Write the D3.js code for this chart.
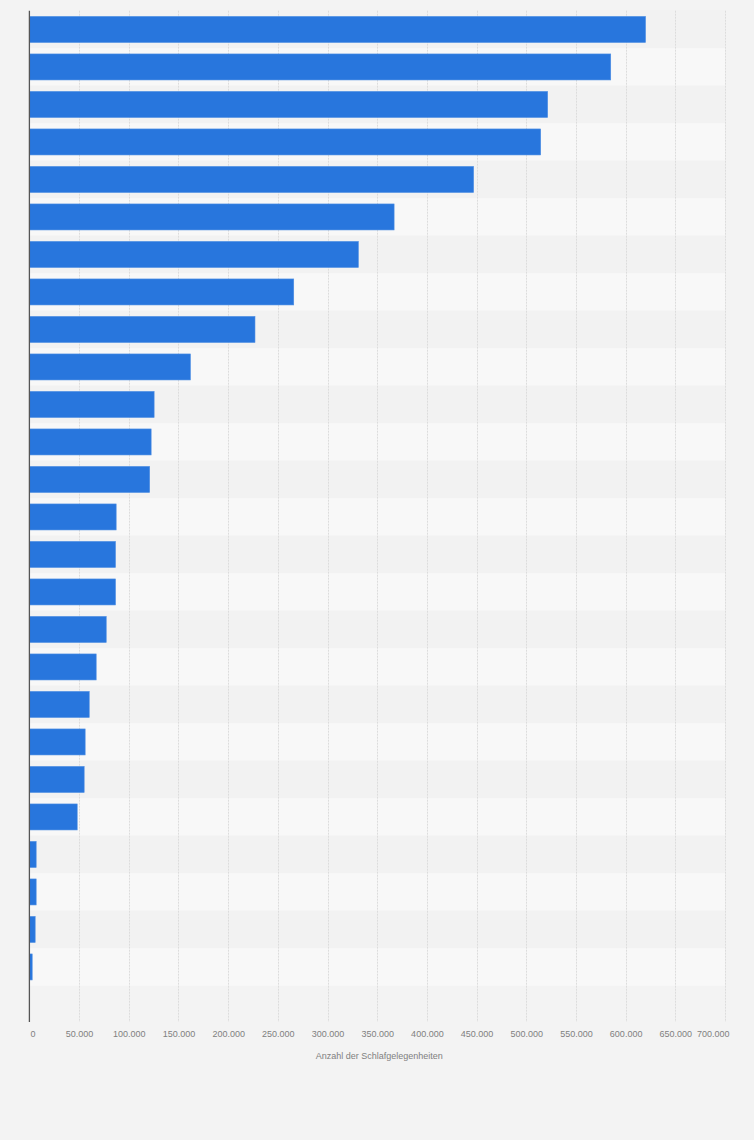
<!DOCTYPE html>
<html>
<head>
<meta charset="utf-8">
<script src="https://cdn.jsdelivr.net/npm/d3@7"></script>
<style>
  html, body { margin: 0; padding: 0; background: #f3f3f3; }
  svg { display: block; font-family: "Liberation Sans", Arial, sans-serif; }
</style>
</head>
<body>
<div class="canvas"></div>
<script>
// categories are not labelled in the picture, so just a running number
const categories = d3.range(1, 27).map(i => `Kategorie ${i}`);
const values = [620000, 585000, 521500, 514500, 447000, 367000, 331000, 266000, 227000, 162000,
                125500, 122500, 121000, 87300, 86600, 86600, 77300, 67200, 60200, 56100,
                55100, 48100, 6800, 6800, 5800, 2800];
const tickValues = d3.range(0, 700001, 50000);
const axisTitle = 'Anzahl der Schlafgelegenheiten';

const size = { width: 754, height: 1140 };
const plot = { left: 29.4, right: 725, top: 10.7, bottom: 985.7, gridBottom: 1022 };

const de = d3.formatLocale({ decimal: ',', thousands: '.', grouping: [3], currency: ['', ' €'] });
const fmt = de.format(',');

const svg = d3.select('.canvas')
  .append('svg')
  .attr('width', size.width)
  .attr('height', size.height);

svg.append('rect')
  .attr('width', size.width)
  .attr('height', size.height)
  .attr('fill', '#f3f3f3');

const x = d3.scaleLinear()
  .domain([0, 700000])
  .range([plot.left, plot.right]);

const y = d3.scaleBand()
  .domain(categories)
  .range([plot.top, plot.bottom])
  .paddingInner(0.307)
  .paddingOuter(0.1535);

const step = y.step();

// striped row backgrounds
svg.append('g')
  .selectAll('rect')
  .data(categories)
  .join('rect')
    .attr('x', plot.left)
    .attr('y', d => y(d) - (step - y.bandwidth()) / 2)
    .attr('width', plot.right - plot.left)
    .attr('height', step)
    .attr('fill', (d, i) => i % 2 === 0 ? '#f2f2f2' : '#f8f8f8');

// dotted grid lines
svg.append('g')
  .selectAll('line')
  .data(tickValues.slice(1))
  .join('line')
    .attr('x1', d => Math.round(x(d)) + 0.5)
    .attr('x2', d => Math.round(x(d)) + 0.5)
    .attr('y1', plot.top)
    .attr('y2', plot.gridBottom)
    .attr('stroke', '#dcdcdc')
    .attr('stroke-width', 1)
    .attr('stroke-dasharray', '2,1');

// bars
svg.append('g')
  .selectAll('rect')
  .data(values)
  .join('rect')
    .attr('x', x(0))
    .attr('y', (d, i) => y(categories[i]))
    .attr('width', d => x(d) - x(0))
    .attr('height', y.bandwidth())
    .attr('fill', '#2876dd')
    .attr('stroke', '#4a8ce3')
    .attr('stroke-width', 0.6);

// zero line
svg.append('line')
  .attr('x1', x(0))
  .attr('x2', x(0))
  .attr('y1', plot.top)
  .attr('y2', plot.gridBottom)
  .attr('stroke', '#555')
  .attr('stroke-width', 1.3);

// x axis labels
const xAxis = d3.axisBottom(x)
  .tickValues(tickValues)
  .tickFormat(fmt)
  .tickSize(0)
  .tickPadding(0);

const axisG = svg.append('g')
  .attr('transform', `translate(0, ${plot.gridBottom + 9})`)
  .call(xAxis);

axisG.select('.domain').remove();
axisG.selectAll('text')
  .attr('fill', '#808080')
  .attr('font-size', 9)
  .attr('font-family', '"Liberation Sans", Arial, sans-serif');

// first and last labels are nudged inside like the original
axisG.selectAll('.tick')
  .filter(d => d === 0)
  .select('text')
  .attr('text-anchor', 'start')
  .attr('x', 0.5);
axisG.selectAll('.tick')
  .filter(d => d === 700000)
  .select('text')
  .attr('text-anchor', 'end')
  .attr('x', 4);

svg.append('text')
  .attr('x', (plot.left + plot.right) / 2 + 2)
  .attr('y', 1059)
  .attr('text-anchor', 'middle')
  .attr('font-size', 9)
  .attr('fill', '#808080')
  .text(axisTitle);
</script>
</body>
</html>
